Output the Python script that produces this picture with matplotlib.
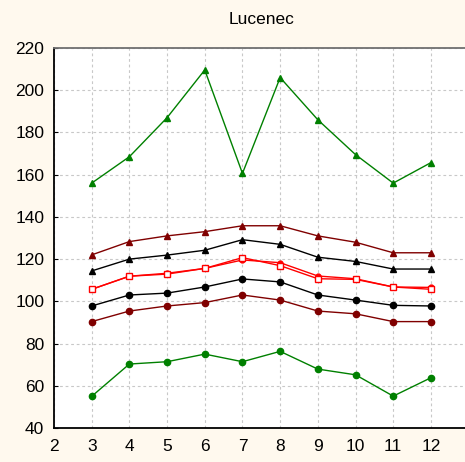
import matplotlib.pyplot as plt

plt.rcParams['font.family'] = ['Liberation Sans', 'DejaVu Sans']

# months on the x axis
months = [3, 4, 5, 6, 7, 8, 9, 10, 11, 12]

# series
green_tri = [156, 168.5, 187, 209.6, 160.6, 206, 186, 169.5, 156, 165.7]
darkred_tri = [122, 128.3, 131, 133, 135.8, 135.8, 131, 128, 123, 123]
black_tri = [114.4, 120, 121.9, 124.2, 129.2, 127, 120.9, 118.9, 115.3, 115.3]
red_sq = [105.7, 111.9, 112.9, 115.6, 120.7, 116.9, 110.7, 110.4, 106.8, 105.7]
red_dot = [105.7, 111.9, 113.3, 115.6, 119.6, 118.3, 112.0, 110.7, 106.8, 106.6]
black_dot = [97.8, 103, 103.9, 106.8, 110.6, 109.2, 103, 100.6, 98.1, 97.8]
darkred_dot = [90.4, 95.4, 97.8, 99.4, 103, 100.6, 95.4, 94.1, 90.4, 90.4]
green_dot = [55, 70.3, 71.4, 75, 71.4, 76.3, 67.9, 65.2, 55.1, 63.8]

yticks = [40, 60, 80, 100, 120, 140, 160, 180, 200, 220]
xticks = [2, 3, 4, 5, 6, 7, 8, 9, 10, 11, 12]

fig = plt.figure(figsize=(4.65, 4.62), dpi=100, facecolor='#fff9ee')
ax = fig.add_axes([54 / 465, 34 / 462, 414.6 / 465, 380 / 462])
ax.set_facecolor('white')

green = '#008000'
darkred = '#800000'

ax.plot(months, green_tri, color=green, marker='^', ms=4.5, lw=1)
ax.plot(months, darkred_tri, color=darkred, marker='^', ms=4.5, lw=1)
ax.plot(months, black_tri, color='black', marker='^', ms=4.5, lw=1)
ax.plot(months, red_dot, color='red', marker='o', ms=3.5, lw=1)
ax.plot(months, red_sq, color='red', marker='s', ms=4.5, mfc='white', mew=1, lw=1)
ax.plot(months, black_dot, color='black', marker='o', ms=4.5, lw=1)
ax.plot(months, darkred_dot, color=darkred, marker='o', ms=4.5, lw=1)
ax.plot(months, green_dot, color=green, marker='o', ms=4.5, lw=1)

ax.set_xlim(2, 13)
ax.set_ylim(40, 220)
ax.set_xticks(xticks)
ax.set_yticks(yticks)
ax.tick_params(axis='y', direction='in', length=3, labelsize=12.5, pad=7)
ax.tick_params(axis='x', direction='in', length=0, labelsize=12.5, pad=8)
ax.grid(True, color='#c8c8c8', linestyle=(0, (2.5, 2.5)), lw=0.8)

ax.spines['left'].set_linewidth(1.3)
ax.spines['bottom'].set_linewidth(1.3)
ax.spines['top'].set_color('#707070')
ax.spines['top'].set_linewidth(1.3)
ax.spines['right'].set_visible(False)

fig.text(262 / 465, 1 - 20 / 462, 'Lucenec', ha='center', va='center', fontsize=12.5)

fig.savefig('out.png', dpi=100, facecolor=fig.get_facecolor())
